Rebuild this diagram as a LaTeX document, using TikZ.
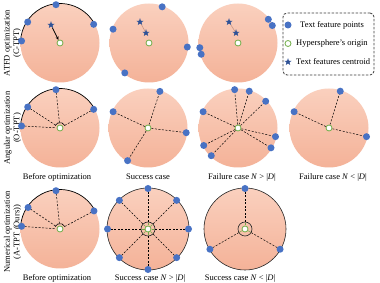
\documentclass[tikz,border=0pt]{standalone}
\usepackage{fontspec}
\setmainfont{Liberation Serif}
\usetikzlibrary{shapes.geometric,arrows.meta}
\definecolor{featblue}{RGB}{72,114,196}
\definecolor{origgreen}{RGB}{112,173,71}
\definecolor{stardark}{RGB}{47,82,150}
\definecolor{spheretop}{RGB}{250,208,190}
\definecolor{spherebot}{RGB}{244,178,152}
\definecolor{faintline}{RGB}{200,150,130}
\definecolor{boxgray}{RGB}{60,60,60}
\begin{document}
\begin{tikzpicture}[
  x=1pt,
  y=1pt,
  font=\fontsize{8.5}{9.5}\selectfont,
  sphere/.style={circle, inner sep=0pt, minimum size=79pt, top color=spheretop, bottom color=spherebot},
  sphereline/.style={sphere, minimum size=82pt, draw=black!85, line width=0.6pt},
  featpt/.style={circle, fill=featblue, inner sep=0pt, minimum size=7pt},
  orig/.style={circle, draw=origgreen, fill=white, line width=0.8pt, inner sep=0pt, minimum size=6pt},
  centroid/.style={star, star points=5, star point ratio=2.4, fill=stardark, inner sep=0pt, minimum size=7.5pt},
  spoke/.style={dash pattern=on 2pt off 1.5pt, line width=0.5pt},
  ring/.style={circle, draw=black!85, line width=0.6pt, inner sep=0pt, minimum size=14pt},
  rowlabel/.style={rotate=90, align=center},
  legendtext/.style={anchor=west, inner sep=0pt}
]

% Background / bounding box
\useasboundingbox (0,0) rectangle (380,283);
\fill[white] (0,0) rectangle (380,283);

% Row labels
\node[rowlabel] (lab1) at (12.5,240) {ATFD optimization\\(C-TPT)};
\node[rowlabel] (lab2) at (12.5,155) {Angular optimization\\(O-TPT)};
\node[rowlabel] (lab3) at (12.5,51) {Numerical optimization\\(A-TPT (Ours))};

% Row 1: ATFD optimization
\node[sphere] (s11) at (60,240) {};
\node[sphere] (s12) at (149,240) {};
\node[sphere] (s13) at (238,240) {};

\draw[line width=0.7pt] ([shift={(29:39.5)}]s11.center) arc[start angle=29, end angle=177, radius=39.5];

\foreach \a [count=\i] in {96,147,177,29} {
  \node[featpt] (d11-\i) at ([shift={(\a:38.5)}]s11.center) {};
}
\foreach \a [count=\i] in {70,159,-6,231} {
  \node[featpt] (d12-\i) at ([shift={(\a:38.5)}]s12.center) {};
}
\foreach \a [count=\i] in {38,27,187,197} {
  \node[featpt] (d13-\i) at ([shift={(\a:38.5)}]s13.center) {};
}

\node[orig] (o11) at (s11.center) {};
\node[orig] (o12) at (s12.center) {};
\node[orig] (o13) at (s13.center) {};

\node[centroid] (c11) at ([shift={(-9,18)}]s11.center) {};
\draw[-{Stealth[length=3.5pt,width=3pt]}, line width=0.8pt] (c11) -- (o11);

\node[centroid] (c12a) at ([shift={(-9,21)}]s12.center) {};
\node[centroid] (c12b) at ([shift={(-3,10)}]s12.center) {};
\draw[faintline, line width=0.6pt] (c12a) -- (c12b);

\node[centroid] (c13a) at ([shift={(-9,21)}]s13.center) {};
\node[centroid] (c13b) at ([shift={(-2,10)}]s13.center) {};
\draw[faintline, line width=0.6pt] (c13a) -- (c13b);

% Legend
\node[draw=boxgray, dash pattern=on 2.5pt off 1.5pt, line width=0.8pt, rounded corners=4pt,
  minimum width=91pt, minimum height=62pt] (legend) at (328.5,239) {};
\node[featpt] (ld1) at (288,258) {};
\node[legendtext] (lt1) at (300,258) {Text feature points};
\node[orig] (ld2) at (288,239.5) {};
\node[legendtext] (lt2) at (296,239.5) {Hypersphere's origin};
\node[centroid] (ld3) at (288,221) {};
\node[legendtext] (lt3) at (296,221) {Text features centroid};

% Row 2: Angular optimization
\node[sphere] (s21) at (60,155) {};
\node[sphere] (s22) at (148,155) {};
\node[sphere] (s23) at (238,155) {};
\node[sphere] (s24) at (329,155) {};

\draw[line width=0.7pt] ([shift={(29:39.5)}]s21.center) arc[start angle=29, end angle=177, radius=39.5];
\draw[line width=0.6pt] ([shift={(25:5.5)}]s21.center) arc[start angle=25, end angle=155, radius=5.5];

\foreach \a [count=\i] in {96,147,177,29} {
  \coordinate (q21-\i) at ([shift={(\a:38.5)}]s21.center);
  \draw[spoke] ([shift={(\a:5.5)}]s21.center) -- (q21-\i);
  \node[featpt] (d21-\i) at (q21-\i) {};
}
\foreach \a [count=\i] in {72,155,-7,238} {
  \coordinate (q22-\i) at ([shift={(\a:38.5)}]s22.center);
  \draw[spoke] (s22.center) -- (q22-\i);
  \node[featpt] (d22-\i) at (q22-\i) {};
}
\foreach \a [count=\i] in {95,73,44,155,-13,-31,207,226} {
  \coordinate (q23-\i) at ([shift={(\a:38.5)}]s23.center);
  \draw[spoke] (s23.center) -- (q23-\i);
  \node[featpt] (d23-\i) at (q23-\i) {};
}
\foreach \a [count=\i] in {73,155,-13} {
  \coordinate (q24-\i) at ([shift={(\a:38.5)}]s24.center);
  \draw[spoke] (s24.center) -- (q24-\i);
  \node[featpt] (d24-\i) at (q24-\i) {};
}

\node[orig] (o21) at (s21.center) {};
\node[orig] (o22) at (s22.center) {};
\node[orig] (o23) at (s23.center) {};
\node[orig] (o24) at (s24.center) {};

\node (cap21) at (57,106) {Before optimization};
\node (cap22) at (148,106) {Success case};
\node (cap23) at (242,106) {Failure case \textit{N} > |\textit{D}|};
\node (cap24) at (333,106) {Failure case \textit{N} < |\textit{D}|};

% Row 3: Numerical optimization
\node[sphere] (s31) at (60,54) {};
\node[sphereline] (s32) at (148,54) {};
\node[sphereline] (s33) at (245,54) {};

\draw[line width=0.7pt] ([shift={(28:39.5)}]s31.center) arc[start angle=28, end angle=176, radius=39.5];
\draw[line width=0.6pt] ([shift={(25:5.5)}]s31.center) arc[start angle=25, end angle=155, radius=5.5];

\foreach \a [count=\i] in {96,146,176,28} {
  \coordinate (q31-\i) at ([shift={(\a:38.5)}]s31.center);
  \draw[spoke] ([shift={(\a:5.5)}]s31.center) -- (q31-\i);
  \node[featpt] (d31-\i) at (q31-\i) {};
}

\node[ring] (r32) at (s32.center) {};
\foreach \a [count=\i] in {90,45,0,-45,-90,-135,180,135} {
  \coordinate (q32-\i) at ([shift={(\a:40.5)}]s32.center);
  \draw[spoke] (r32) -- (q32-\i);
  \draw[origgreen, line width=0.5pt] ([shift={(\a:3.5)}]s32.center) -- ([shift={(\a:6.3)}]s32.center);
  \node[featpt] (d32-\i) at (q32-\i) {};
}

\node[ring] (r33) at (s33.center) {};
\foreach \a [count=\i] in {90,210,330} {
  \coordinate (q33-\i) at ([shift={(\a:40.5)}]s33.center);
  \draw[spoke] (r33) -- (q33-\i);
  \draw[origgreen, line width=0.5pt] ([shift={(\a:3.5)}]s33.center) -- ([shift={(\a:6.3)}]s33.center);
  \node[featpt] (d33-\i) at (q33-\i) {};
}

\node[orig] (o31) at (s31.center) {};
\node[orig] (o32) at (s32.center) {};
\node[orig] (o33) at (s33.center) {};

\node (cap31) at (57,5) {Before optimization};
\node (cap32) at (150,5) {Success case \textit{N} > |\textit{D}|};
\node (cap33) at (240,5) {Success case \textit{N} < |\textit{D}|};

\end{tikzpicture}
\end{document}
